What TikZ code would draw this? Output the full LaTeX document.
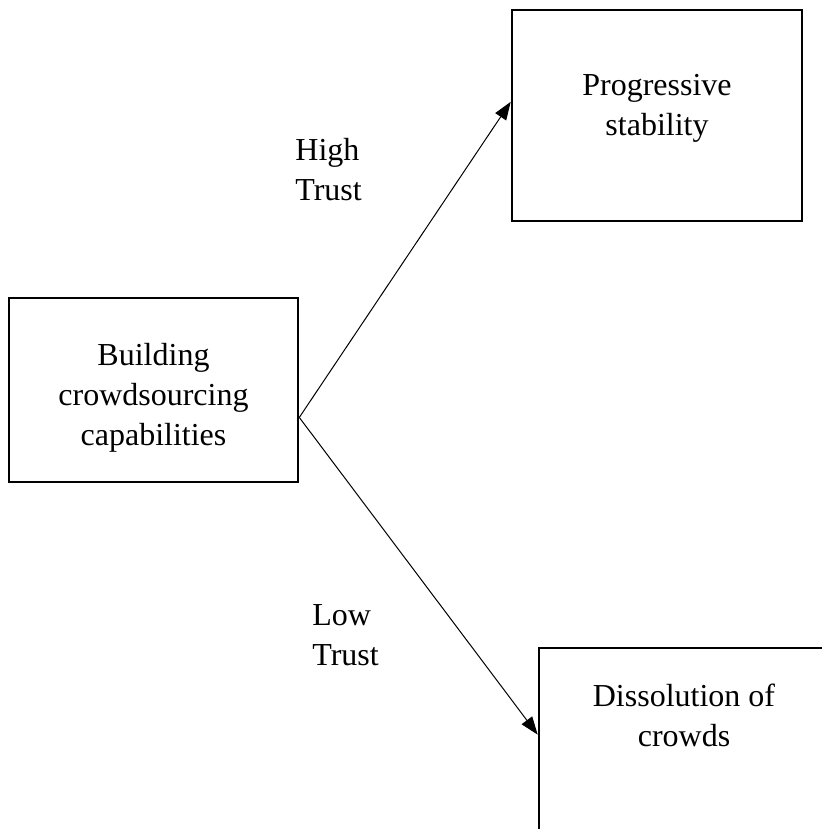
\documentclass[tikz,border=0pt]{standalone}
\usepackage{fontspec}
\setmainfont{Liberation Serif}
\usetikzlibrary{arrows.meta,calc}
\tikzset{
  box/.style={draw, line width=1.3pt, rectangle, inner sep=0pt},
  boxtext/.style={align=center, inner sep=0pt, font=\fontsize{16}{20}\selectfont},
  trustlabel/.style={align=left, inner sep=0pt, anchor=west, font=\fontsize{16}{20}\selectfont},
  link/.style={line width=0.5pt, -{Triangle[length=9pt,width=6.5pt]}}
}
\begin{document}
\begin{tikzpicture}[x=0.5pt, y=-0.5pt]
  \useasboundingbox (0,0) rectangle (822,829);
  \clip (0,0) rectangle (822,829);
  % boxes
  \node[box, minimum width=144.5pt, minimum height=92pt] (build) at (153.5,390) {};
  \node[box, minimum width=145pt, minimum height=105.5pt] (stab) at (657,115.5) {};
  \node[box, minimum width=180pt, minimum height=130pt] (diss) at (719,778) {};
  \node[boxtext] (buildtxt) at (153.5,397.5) {Building\\crowdsourcing\\capabilities};
  \node[boxtext] (stabtxt) at (657,108.5) {Progressive\\stability};
  \node[boxtext] (disstxt) at (684,715) {Dissolution of\\crowds};
  % trust labels
  \node[trustlabel] (high) at (295,170) {High\\Trust};
  \node[trustlabel] (low) at (312,635.5) {Low\\Trust};
  % connectors
  \coordinate (fork) at ($(build.north east)!0.647!(build.south east)$);
  \coordinate (hitip) at ($(stab.north west)!0.436!(stab.south west)$);
  \coordinate (lotip) at ($(diss.north west)!0.335!(diss.south west)$);
  \draw[link] (fork) -- (hitip);
  \draw[link] (fork) -- (lotip);
\end{tikzpicture}
\end{document}
